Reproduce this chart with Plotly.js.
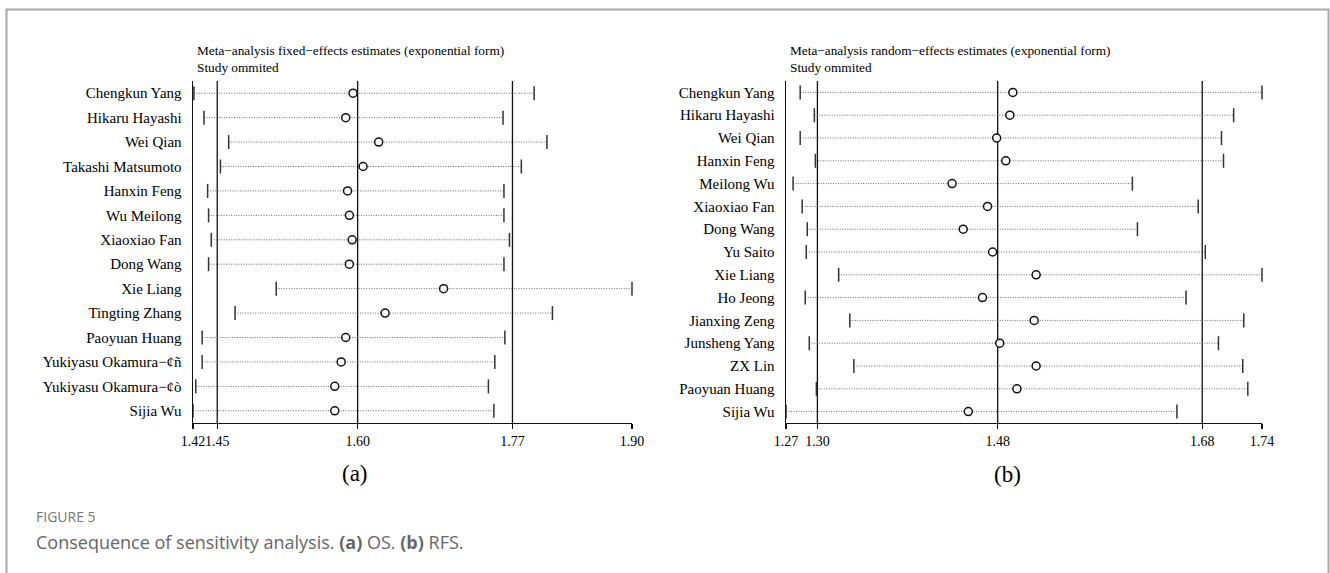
<!DOCTYPE html>
<html><head><meta charset="utf-8">
<script src="https://cdn.plot.ly/plotly-3.0.1.min.js"></script>
<style>html,body{margin:0;padding:0;background:#fff}#chart{width:1330px;height:573px}</style>
</head><body><div id="chart"></div>
<script>
// ---- Panel (a): fixed-effects, study omitted ----
const studiesA = ["Chengkun Yang","Hikaru Hayashi","Wei Qian","Takashi Matsumoto","Hanxin Feng","Wu Meilong","Xiaoxiao Fan","Dong Wang","Xie Liang","Tingting Zhang","Paoyuan Huang","Yukiyasu Okamura\u2212\u00a2\u00f1","Yukiyasu Okamura\u2212\u00a2\u00f2","Sijia Wu"];
const estA  = [1.595,1.587,1.623,1.606,1.589,1.591,1.594,1.591,1.694,1.630,1.587,1.582,1.575,1.575];
const lowA  = [1.421,1.432,1.459,1.450,1.436,1.437,1.440,1.437,1.511,1.466,1.430,1.430,1.423,1.420];
const highA = [1.793,1.759,1.807,1.779,1.760,1.760,1.766,1.760,1.900,1.813,1.761,1.750,1.743,1.749];
const overallA = [1.4465,1.600,1.7693];   // lower CI, estimate, upper CI
const tickTextA = ["1.42","1.45","1.60","1.77","1.90"];
const titleA = ["Meta\u2212analysis fixed\u2212effects estimates (exponential form)","Study ommited"];

// ---- Panel (b): random-effects, study omitted ----
const studiesB = ["Chengkun Yang","Hikaru Hayashi","Wei Qian","Hanxin Feng","Meilong Wu","Xiaoxiao Fan","Dong Wang","Yu Saito","Xie Liang","Ho Jeong","Jianxing Zeng","Junsheng Yang","ZX Lin","Paoyuan Huang","Sijia Wu"];
const estB  = [1.494,1.491,1.478,1.487,1.434,1.469,1.445,1.474,1.517,1.464,1.515,1.481,1.517,1.498,1.450];
const lowB  = [1.284,1.298,1.284,1.299,1.277,1.286,1.291,1.290,1.322,1.289,1.333,1.293,1.337,1.300,1.270];
const highB = [1.740,1.712,1.700,1.702,1.612,1.677,1.617,1.684,1.740,1.665,1.722,1.697,1.721,1.726,1.656];
const overallB = [1.301,1.479,1.681];
const tickTextB = ["1.27","1.30","1.48","1.68","1.74"];
const titleB = ["Meta\u2212analysis random\u2212effects estimates (exponential form)","Study ommited"];

const panelLabels = ["(a)","(b)"];
const figLabel = "FIGURE 5";
const caption = "Consequence of sensitivity analysis. <b>(a)</b> OS. <b>(b)</b> RFS.";

const W = 1330, H = 573;
const SERIF = "Liberation Serif, Times New Roman, serif";
const px = v => v / W;
const py = v => (H - v) / H;

function panelTraces(studies, est, low, high, xa, ya) {
  const lx = [], ly = [];
  studies.forEach((s, i) => { lx.push(low[i], high[i], null); ly.push(s, s, null); });
  return [
    {type:'scatter', mode:'lines', x:lx, y:ly, xaxis:xa, yaxis:ya, cliponaxis:false,
     line:{color:'#666', width:1, dash:'1px,1.5px'}, hoverinfo:'skip'},
    {type:'scatter', mode:'markers', x:low.concat(high), y:studies.concat(studies), xaxis:xa, yaxis:ya, cliponaxis:false,
     marker:{symbol:'line-ns', size:10, line:{color:'#333', width:1.5}}, hoverinfo:'skip'},
    {type:'scatter', mode:'markers', x:est, y:studies, xaxis:xa, yaxis:ya, cliponaxis:false,
     marker:{symbol:'circle', size:8, color:'#fff', line:{color:'#111', width:1.5}}, hoverinfo:'skip'}
  ];
}

function xAxis(low, high, overall, tickText, x0, x1, anchor) {
  const mn = Math.min(...low), mx = Math.max(...high);
  return {domain:[px(x0), px(x1)], range:[mn, mx], anchor:anchor,
    tickvals:[mn].concat(overall, [mx]), ticktext:tickText, tickangle:0,
    ticks:'outside', ticklen:5, tickwidth:1.4, tickcolor:'#111',
    showline:true, linecolor:'#111', linewidth:1.4, showgrid:false, zeroline:false,
    tickfont:{family:SERIF, size:14, color:'#000'}, automargin:false, fixedrange:true};
}
function yAxis(studies, anchor) {
  return {domain:[py(423), py(81)], type:'category', categoryarray:studies, categoryorder:'array',
    range:[studies.length - 0.5, -0.5], anchor:anchor,
    showline:true, linecolor:'#111', linewidth:1.4, ticks:'', showgrid:false, zeroline:false,
    ticklabelstandoff:7, tickfont:{family:SERIF, size:15, color:'#000'}, automargin:false, fixedrange:true};
}
function refLines(overall, xr) {
  return overall.map(v => ({type:'line', xref:xr, yref:xr.replace('x','y') + ' domain', x0:v, x1:v, y0:0, y1:1,
    line:{color:'#111', width:1.3}, layer:'below'}));
}

const data = panelTraces(studiesA, estA, lowA, highA, 'x', 'y')
  .concat(panelTraces(studiesB, estB, lowB, highB, 'x2', 'y2'));

const ann = [];
function titleAnn(lines, x) {
  [50, 67].forEach((yy, i) => ann.push({xref:'paper', yref:'paper', x:px(x), y:py(yy), xanchor:'left', yanchor:'middle',
    text:lines[i], showarrow:false, font:{family:SERIF, size:13.3, color:'#000'}}));
}
titleAnn(titleA, 195);
titleAnn(titleB, 788);
ann.push({xref:'paper', yref:'paper', x:px(355), y:py(473), xanchor:'center', yanchor:'middle', text:panelLabels[0], showarrow:false, font:{family:SERIF, size:23, color:'#000'}});
ann.push({xref:'paper', yref:'paper', x:px(1007), y:py(474), xanchor:'center', yanchor:'middle', text:panelLabels[1], showarrow:false, font:{family:SERIF, size:23, color:'#000'}});
ann.push({xref:'paper', yref:'paper', x:px(34), y:py(516), xanchor:'left', yanchor:'middle', text:figLabel, showarrow:false, font:{family:'Open Sans, sans-serif', size:14, color:'#777'}});
ann.push({xref:'paper', yref:'paper', x:px(34), y:py(542), xanchor:'left', yanchor:'middle', text:caption, showarrow:false, font:{family:'Open Sans, sans-serif', size:18, color:'#666'}});

const shapes = refLines(overallA, 'x').concat(refLines(overallB, 'x2'));
shapes.push({type:'rect', xref:'paper', yref:'paper', x0:px(6.5), x1:px(1328.5), y0:-0.2, y1:py(9.5),
  line:{color:'#a8a8a8', width:2}, fillcolor:'rgba(0,0,0,0)', layer:'below'});

const layout = {
  width:W, height:H, margin:{l:0, r:0, t:0, b:0}, autosize:false,
  paper_bgcolor:'#fff', plot_bgcolor:'#fff', showlegend:false, hovermode:false,
  xaxis: xAxis(lowA, highA, overallA, tickTextA, 193, 632, 'y'),
  yaxis: yAxis(studiesA, 'x'),
  xaxis2: xAxis(lowB, highB, overallB, tickTextB, 786, 1262, 'y2'),
  yaxis2: yAxis(studiesB, 'x2'),
  annotations: ann, shapes: shapes
};
Plotly.newPlot('chart', data, layout, {staticPlot:true, displayModeBar:false});
</script></body></html>
